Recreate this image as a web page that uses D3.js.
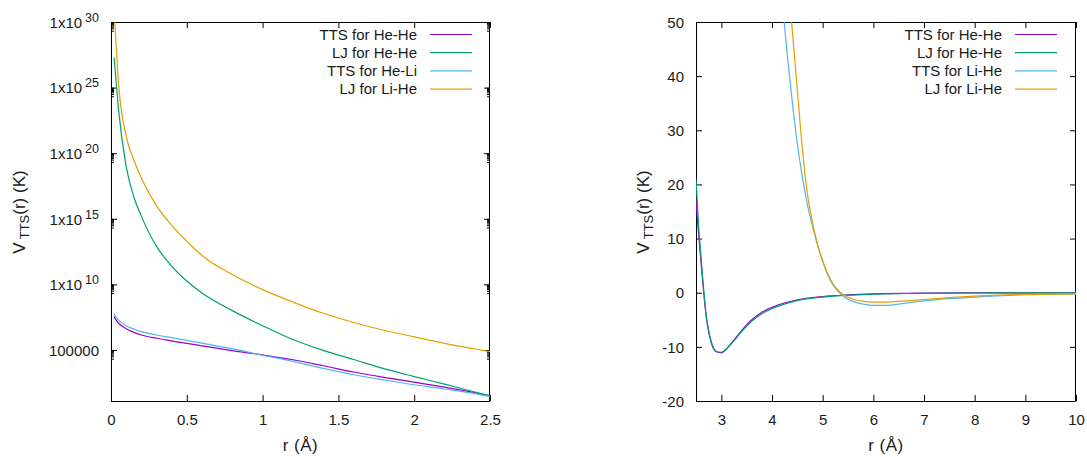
<!DOCTYPE html>
<html>
<head>
<meta charset="utf-8">
<script src="https://cdn.jsdelivr.net/npm/d3@7"></script>
<style>
  body { margin: 0; background: #fff; }
  text { font-family: "Liberation Sans", Arial, sans-serif; fill: #1a1a1a; }
</style>
</head>
<body>
<script>
// ---- left panel (log scale), r in Angstrom ----
var rLeft = [0.02, 0.03, 0.05, 0.1, 0.15, 0.2, 0.3, 0.4, 0.5, 0.6, 0.8, 1.0, 1.2, 1.4, 1.6, 1.8, 2.0, 2.2, 2.4, 2.5];
var ttsHeHeLeft = [3.5e7, 2.2e7, 1.1e7, 4.2e6, 2.2e6, 1.4e6, 7.9e5, 5.0e5, 3.2e5, 2.1e5, 8.9e4, 4.2e4, 1.8e4, 6.3e3, 2.1e3, 830, 355, 148, 56, 32];
var ljHeHeLeft = [2.0e27, 1e26, 2.0e23, 1e19, 5.0e16, 1.6e15, 7.9e12, 2.5e11, 1.8e10, 2.2e9, 1e8, 7.1e6, 6.3e5, 9.3e4, 1.9e4, 3.8e3, 950, 250, 63, 32];
var ttsHeLiLeft = [5.6e7, 3.5e7, 1.9e7, 7.1e6, 4.0e6, 2.5e6, 1.4e6, 8.9e5, 5.5e5, 3.3e5, 1.26e5, 4.0e4, 1.35e4, 4.0e3, 1.3e3, 525, 224, 107, 48, 28];
var ljLiHeLeft = [1e31, 1e29, 2.0e25, 2.0e21, 3.2e19, 1.3e18, 1e16, 3.2e14, 2.0e13, 1.6e12, 5.6e10, 4.0e9, 4.5e8, 6.3e7, 1.26e7, 3.2e6, 1e6, 3.2e5, 1.2e5, 7.4e4];
var leftLabels = ["TTS for He-He", "LJ for He-He", "TTS for He-Li", "LJ for Li-He"];
var leftYTicks = [1e5, 1e10, 1e15, 1e20, 1e25, 1e30];
var leftXTicks = [0, 0.5, 1, 1.5, 2, 2.5];

// ---- right panel (linear), r in Angstrom ----
var rHeHe = [2.5, 2.55, 2.6, 2.7, 2.8, 2.9, 3.0, 3.1, 3.2, 3.4, 3.6, 3.8, 4.0, 4.5, 5.0, 5.5, 6, 7, 8, 9, 10];
var ttsHeHeRight = [17, 11, 5.5, -4.3, -9.2, -10.9, -11.1, -10.4, -9.3, -7.0, -5.0, -3.6, -2.7, -1.3, -0.7, -0.4, -0.22, -0.08, -0.04, -0.02, -0.01];
var ljHeHeRight = [21, 12.5, 6.5, -4.0, -9.0, -10.8, -11.0, -10.4, -9.4, -7.2, -5.3, -3.9, -2.95, -1.45, -0.8, -0.45, -0.27, -0.1, -0.05, -0.02, -0.01];
var rLiHe = [4.2, 4.3, 4.4, 4.5, 4.6, 4.7, 4.8, 4.9, 5.0, 5.1, 5.2, 5.3, 5.4, 5.5, 5.6, 5.8, 6.0, 6.2, 6.5, 7, 7.5, 8, 9, 10];
var ttsLiHeRight = [54, 44, 35.3, 27.5, 21.3, 16.2, 12.2, 8.8, 5.8, 3.3, 1.5, 0.3, -0.6, -1.2, -1.6, -2.1, -2.35, -2.35, -2.1, -1.5, -1.1, -0.8, -0.35, -0.2];
var ljLiHeRight = [75, 60, 48.5, 37.5, 26.5, 18.2, 13.0, 8.9, 5.9, 3.5, 1.7, 0.5, -0.3, -0.85, -1.2, -1.6, -1.75, -1.75, -1.6, -1.25, -0.9, -0.62, -0.32, -0.2];
var rightLabels = ["TTS for He-He", "LJ for He-He", "TTS for Li-He", "LJ for Li-He"];
var rightYTicks = [-20, -10, 0, 10, 20, 30, 40, 50];
var rightXTicks = [3, 4, 5, 6, 7, 8, 9, 10];

var colors = ["#9400d3", "#009e73", "#56b4e9", "#e69f00"];

var svg = d3.select('body').append('svg').attr('width', 1087).attr('height', 457);

function panel(opt) {
  var g = svg.append('g');
  var x = opt.x, y = opt.y;
  var x0 = x.range()[0], x1 = x.range()[1], yb = y.range()[0], yt = y.range()[1];

  var clipId = 'clip' + opt.id;
  svg.append('clipPath').attr('id', clipId).append('rect')
    .attr('x', x0).attr('y', yt).attr('width', x1 - x0).attr('height', yb - yt);

  // ticks on all four sides, pointing inward
  g.append('g').attr('transform', 'translate(0,' + yb + ')')
    .call(d3.axisBottom(x).tickValues(opt.xTicks).tickSize(-6).tickPadding(13).tickFormat(opt.xFmt))
    .call(function (a) { a.select('.domain').remove(); a.selectAll('text').attr('font-size', 15).attr('fill', '#1a1a1a'); });
  g.append('g').attr('transform', 'translate(0,' + yt + ')')
    .call(d3.axisTop(x).tickValues(opt.xTicks).tickSize(-6).tickFormat(''))
    .call(function (a) { a.select('.domain').remove(); });
  var yl = g.append('g').attr('transform', 'translate(' + x0 + ',0)')
    .call(d3.axisLeft(y).tickValues(opt.yTicks).tickSize(-6).tickPadding(12).tickFormat(''))
    .call(function (a) { a.select('.domain').remove(); });
  g.append('g').attr('transform', 'translate(' + x1 + ',0)')
    .call(d3.axisRight(y).tickValues(opt.yTicks).tickSize(-6).tickFormat(''))
    .call(function (a) { a.select('.domain').remove(); });

  // y tick labels
  yl.selectAll('.tick').each(function (d) {
    var t = d3.select(this).append('text').attr('x', -12).attr('dy', '0.35em')
      .attr('text-anchor', 'end').attr('font-size', 15).attr('fill', '#1a1a1a');
    opt.yFmt(t, d);
  });

  // minor ticks (log panel)
  if (opt.minor) {
    var mg = g.append('g').attr('stroke', '#000');
    opt.minor.forEach(function (v) {
      mg.append('line').attr('x1', x0).attr('x2', x0 + 3).attr('y1', y(v)).attr('y2', y(v));
      mg.append('line').attr('x1', x1).attr('x2', x1 - 3).attr('y1', y(v)).attr('y2', y(v));
    });
  }

  // frame
  g.append('rect').attr('x', x0 + 0.5).attr('y', yt + 0.5).attr('width', x1 - x0 - 1).attr('height', yb - yt)
    .attr('fill', 'none').attr('stroke', '#000').attr('stroke-width', 1);

  // series
  var line = d3.line().x(function (d) { return x(d[0]); }).y(function (d) { return y(d[1]); })
    .curve(d3.curveMonotoneX);
  var lg = g.append('g').attr('clip-path', 'url(#' + clipId + ')');
  opt.series.forEach(function (s, i) {
    var pts = d3.zip(s.r, s.v);
    lg.append('path').datum(pts).attr('d', line).attr('fill', 'none')
      .attr('stroke', colors[i]).attr('stroke-width', 1.2);
  });

  // legend
  opt.labels.forEach(function (l, i) {
    var yy = 34.5 + i * 18.2;
    g.append('text').attr('x', opt.legX).attr('y', yy).attr('dy', '0.35em')
      .attr('text-anchor', 'end').attr('font-size', 15).text(l);
    g.append('line').attr('x1', opt.legX + 13).attr('x2', opt.legX + 55)
      .attr('y1', yy).attr('y2', yy).attr('stroke', colors[i]).attr('stroke-width', 1.2);
  });

  // axis titles
  g.append('text').attr('x', (x0 + x1) / 2).attr('y', 445).attr('dy', '0.35em')
    .attr('text-anchor', 'middle').attr('font-size', 17).attr('letter-spacing', 0.5).text('r (Å)');
  var yt2 = g.append('text').attr('transform', 'translate(' + opt.yTitleX + ',212) rotate(-90)')
    .attr('text-anchor', 'middle').attr('font-size', 17);
  yt2.append('tspan').text('V');
  yt2.append('tspan').attr('font-size', 13).attr('dx', 3).attr('dy', 4).text('TTS');
  yt2.append('tspan').attr('dy', -4).text('(r) (K)');
}

// left panel
var minorLeft = [];
leftYTicks.forEach(function (t) {
  for (var m = 2; m <= 9; m++) minorLeft.push(m * t / 10);
});
panel({
  id: 'L',
  x: d3.scaleLinear().domain([0, 2.5]).range([111, 490]),
  y: d3.scaleLog().domain([13, 1e30]).range([401, 22]),
  xTicks: leftXTicks,
  xFmt: function (d) { return String(d); },
  yTicks: leftYTicks,
  yFmt: function (t, d) {
    var e = Math.round(Math.log10(d));
    if (e === 5) { t.text('100000'); return; }
    t.append('tspan').text('1x10');
    t.append('tspan').attr('font-size', 12.5).attr('dx', 3).attr('dy', -6).text(String(e));
  },
  minor: minorLeft,
  series: [
    { r: rLeft, v: ttsHeHeLeft },
    { r: rLeft, v: ljHeHeLeft },
    { r: rLeft, v: ttsHeLiLeft },
    { r: rLeft, v: ljLiHeLeft }
  ],
  labels: leftLabels,
  legX: 417,
  yTitleX: 25
});

// right panel
panel({
  id: 'R',
  x: d3.scaleLinear().domain([2.5, 10]).range([696, 1076]),
  y: d3.scaleLinear().domain([-20, 50]).range([401, 22]),
  xTicks: rightXTicks,
  xFmt: function (d) { return String(d); },
  yTicks: rightYTicks,
  yFmt: function (t, d) { t.text(String(d)); },
  series: [
    { r: rHeHe, v: ttsHeHeRight },
    { r: rHeHe, v: ljHeHeRight },
    { r: rLiHe, v: ttsLiHeRight },
    { r: rLiHe, v: ljLiHeRight }
  ],
  labels: rightLabels,
  legX: 1002,
  yTitleX: 649
});
</script>
</body>
</html>
